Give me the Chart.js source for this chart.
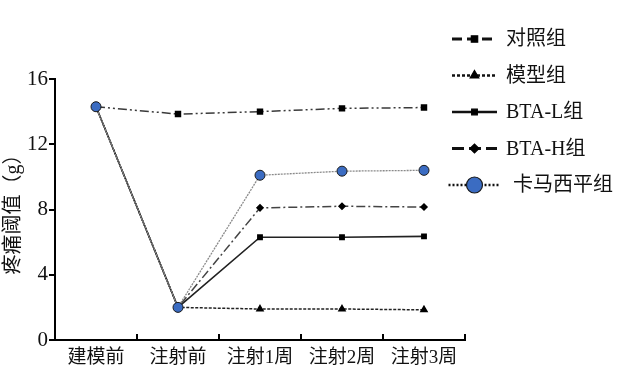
<!DOCTYPE html>
<html>
<head>
<meta charset="utf-8">
<script src="https://cdn.jsdelivr.net/npm/chart.js@4"></script>
<style>
  html, body { margin: 0; padding: 0; background: #fff; }
  #wrap { width: 626px; height: 380px; }
</style>
</head>
<body>
<div id="wrap"><canvas id="chart" width="626" height="380"></canvas></div>
<script>
const categories = ["建模前", "注射前", "注射1周", "注射2周", "注射3周"]
const seriesNames = ["对照组", "模型组", "BTA-L组", "BTA-H组", "卡马西平组"]
const controlValues = [14.3, 13.85, 14.0, 14.2, 14.25]
const modelValues = [14.3, 2.0, 1.9, 1.9, 1.85]
const btaLValues = [14.3, 2.0, 6.3, 6.3, 6.35]
const btaHValues = [14.3, 2.0, 8.1, 8.2, 8.15]
const cbzValues = [14.3, 2.0, 10.1, 10.35, 10.4]
const yTicks = [0, 4, 8, 12, 16]

const serif = "'Liberation Serif', 'Noto Sans CJK SC', serif"

const datasets = [
  {
    label: seriesNames[0], data: controlValues, order: 4,
    borderColor: "#3a3a3a", borderWidth: 1.5, borderDash: [9, 3, 2, 3, 2, 3],
    pointStyle: "rect", pointRadius: 3.5, pointBackgroundColor: "#000", pointBorderColor: "#000",
    legendDash: [10, 5], legendWidth: 3, legendRadius: 4.5, legendGap: 0
  },
  {
    label: seriesNames[1], data: modelValues, order: 3,
    borderColor: "#222", borderWidth: 1.5, borderDash: [3, 1.5],
    pointStyle: "triangle", pointRadius: 3.5, pointBackgroundColor: "#000", pointBorderColor: "#000",
    legendDash: [3, 2], legendWidth: 2.5, legendRadius: 5, legendGap: 0
  },
  {
    label: seriesNames[2], data: btaLValues, order: 2,
    borderColor: "#222", borderWidth: 1.6, borderDash: [],
    pointStyle: "rect", pointRadius: 3, pointBackgroundColor: "#000", pointBorderColor: "#000",
    legendDash: [], legendWidth: 2.5, legendRadius: 4, legendGap: 0
  },
  {
    label: seriesNames[3], data: btaHValues, order: 1,
    borderColor: "#444", borderWidth: 1.5, borderDash: [9, 3, 2, 3],
    pointStyle: "rectRot", pointRadius: 3, pointBackgroundColor: "#000", pointBorderColor: "#000",
    legendDash: [12, 5], legendWidth: 3, legendRadius: 4.5, legendGap: 0
  },
  {
    label: seriesNames[4], data: cbzValues, order: 0,
    borderColor: "#8a8a8a", borderWidth: 1.3, borderDash: [2, 1],
    pointStyle: "circle", pointRadius: 5, pointBackgroundColor: "#3b6cc2", pointBorderColor: "#1a1a1a", pointBorderWidth: 1,
    legendDash: [2, 2], legendWidth: 2.5, legendRadius: 8, legendGap: 7
  }
]

// upward tick marks on the x axis, between categories
const xTickMarks = {
  id: "xTickMarks",
  afterDraw(chart) {
    const { ctx, scales: { x } } = chart
    ctx.save()
    ctx.strokeStyle = "#000"
    ctx.lineWidth = 2
    for (let i = 1; i <= categories.length; i++) {
      const px = x.getPixelForValue(i - 0.5)
      ctx.beginPath()
      ctx.moveTo(px, x.top)
      ctx.lineTo(px, x.top - 6)
      ctx.stroke()
    }
    ctx.restore()
  }
}

// legend on the right: line with marker in the middle, then the name
const sideLegend = {
  id: "sideLegend",
  afterDraw(chart) {
    const { ctx, chartArea } = chart
    const x0 = chartArea.right - 13
    const x1 = x0 + 45
    ctx.save()
    chart.data.datasets.forEach((ds, i) => {
      const y = 39 + i * 36.5
      ctx.strokeStyle = "#111"
      ctx.lineWidth = ds.legendWidth
      ctx.setLineDash(ds.legendDash)
      ctx.beginPath()
      ctx.moveTo(x0 - ds.legendGap / 2, y)
      ctx.lineTo(x1 + ds.legendGap / 2, y)
      ctx.stroke()
      ctx.setLineDash([])
      ctx.fillStyle = ds.pointBackgroundColor
      ctx.strokeStyle = ds.pointBorderColor
      ctx.lineWidth = 1.2
      Chart.helpers.drawPoint(ctx, { pointStyle: ds.pointStyle, radius: ds.legendRadius, borderWidth: 1.2, rotation: 0 }, (x0 + x1) / 2, y)
      ctx.fillStyle = "#111"
      ctx.font = "20px " + serif
      ctx.textBaseline = "middle"
      ctx.fillText(ds.label, x1 + 9 + ds.legendGap, y + 1)
    })
    ctx.restore()
  }
}

new Chart(document.getElementById("chart"), {
  type: "line",
  data: { labels: categories, datasets },
  options: {
    responsive: false,
    animation: false,
    layout: { padding: { top: 79, right: 161, left: 0, bottom: 0 } },
    plugins: { legend: { display: false }, tooltip: { enabled: false } },
    elements: { line: { tension: 0 } },
    scales: {
      x: {
        offset: true,
        grid: { display: false, drawTicks: false },
        border: { display: true, color: "#000", width: 2 },
        ticks: { color: "#111", font: { family: serif, size: 19 }, padding: 7, maxRotation: 0, autoSkip: false },
        afterFit: (scale) => { scale.height = 40 }
      },
      y: {
        min: 0, max: 16,
        afterBuildTicks: (scale) => { scale.ticks = yTicks.map((v) => ({ value: v })) },
        grid: { drawOnChartArea: false, drawTicks: true, tickLength: 6, color: "#000", lineWidth: 2 },
        border: { display: true, color: "#000", width: 2 },
        ticks: { color: "#111", font: { family: serif, size: 21 }, padding: 1 },
        title: { display: true, text: "疼痛阈值（g）", color: "#111", font: { family: serif, size: 20 }, padding: { top: 2, bottom: 0 } },
        afterFit: (scale) => { scale.width = 55 }
      }
    }
  },
  plugins: [xTickMarks, sideLegend]
})
</script>
</body>
</html>
